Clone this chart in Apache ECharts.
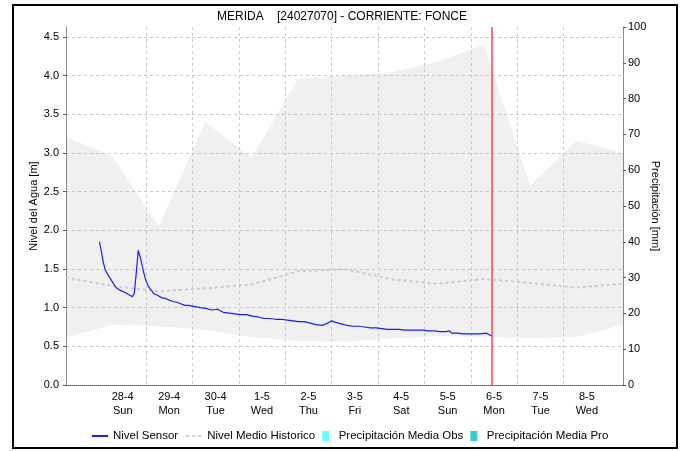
<!DOCTYPE html>
<html>
<head>
<meta charset="utf-8">
<script src="https://cdn.jsdelivr.net/npm/echarts@6/dist/echarts.min.js"></script>
<style>
  html, body { margin: 0; padding: 0; background: #fff; }
  #chart { width: 684px; height: 451px; }
</style>
</head>
<body>
<div id="chart"></div>
<script>
// x values are hours from 28-4 00:00
var T0 = Date.UTC(2024, 3, 28);
var HOUR = 3600 * 1000;

// axis range (hours)
var xMinHours = -17.33;
var xMaxHours = 270.67;
var nowHours = 203;

// day ticks / labels
var dayTickHours = [0, 24, 48, 72, 96, 120, 144, 168, 192, 216, 240, 264];
var dayLabelHours = [12, 36, 60, 84, 108, 132, 156, 180, 204, 228, 252];
var dayNames = ['Sun', 'Mon', 'Tue', 'Wed', 'Thu', 'Fri', 'Sat'];

// historic band and mean (one point per day, at 06:40)
var histHours = [-17.33, 6.67, 30.67, 54.67, 78.67, 102.67, 126.67, 150.67, 174.67, 198.67, 222.67, 246.67, 270.67];
var histUpper = [3.21, 2.96, 2.05, 3.40, 2.94, 3.96, 4.00, 4.04, 4.18, 4.40, 2.58, 3.16, 3.00];
var histLower = [0.61, 0.78, 0.76, 0.71, 0.62, 0.57, 0.56, 0.60, 0.63, 0.62, 0.61, 0.62, 0.78];
var histMean  = [1.39, 1.28, 1.21, 1.25, 1.30, 1.47, 1.50, 1.37, 1.31, 1.37, 1.32, 1.26, 1.31];

// sensor level
var sensorHours = [0, 1, 2, 3, 4, 5, 6, 7, 8, 9, 10, 11, 12, 13, 14, 15, 16, 17, 18, 19, 20, 21, 22, 23, 24, 25, 26, 27, 28,
  30, 32, 34, 36, 38, 40, 42, 44, 46, 48, 50, 52, 55, 58, 61, 64, 67, 70, 73, 76, 79, 82, 85, 88, 91, 94, 97, 100,
  103, 106, 109, 112, 115, 118, 120, 122, 125, 128, 131, 134, 137, 140, 143, 146, 149, 152, 155, 158, 161, 164, 167,
  170, 173, 176, 179, 181, 182, 185, 188, 191, 194, 197, 200, 203];
var sensorLevel = [1.85, 1.72, 1.58, 1.49, 1.44, 1.40, 1.36, 1.32, 1.28, 1.25, 1.23, 1.22, 1.21, 1.20, 1.19, 1.17, 1.18, 1.14, 1.19, 1.45, 1.74, 1.66, 1.55, 1.44, 1.35, 1.29, 1.25, 1.22, 1.18,
  1.16, 1.13, 1.12, 1.10, 1.08, 1.07, 1.05, 1.03, 1.03, 1.02, 1.01, 1.00, 0.99, 0.97, 0.98, 0.94, 0.93, 0.92, 0.91, 0.91, 0.89, 0.88, 0.86, 0.86, 0.85, 0.85, 0.84, 0.83,
  0.82, 0.82, 0.80, 0.78, 0.77, 0.80, 0.83, 0.81, 0.79, 0.77, 0.76, 0.76, 0.75, 0.74, 0.74, 0.73, 0.72, 0.72, 0.72, 0.71, 0.71, 0.71, 0.71,
  0.70, 0.70, 0.69, 0.69, 0.70, 0.67, 0.67, 0.66, 0.66, 0.66, 0.66, 0.67, 0.63];

function pairs(hs, vs) { return hs.map(function (h, i) { return [h, vs[i]]; }); }

var chart = echarts.init(document.getElementById('chart'));
var font = 'Liberation Sans, Arial, sans-serif';
var gridColor = '#c8c8c8';

var option = {
    animation: false,
    backgroundColor: '#fff',
    textStyle: { fontFamily: font },
    title: {
        text: 'MERIDA    [24027070] - CORRIENTE: FONCE',
        left: 'center',
        top: 6,
        textStyle: { fontSize: 12, fontWeight: 'normal', color: '#000', fontFamily: font }
    },
    graphic: [{
        type: 'rect',
        shape: { x: 13, y: 5, width: 664, height: 443 },
        style: { fill: 'none', stroke: '#000', lineWidth: 2 },
        silent: true
    }],
    grid: { left: 66, right: 61, top: 27, bottom: 66 },
    legend: {
        bottom: 4,
        left: 86,
        itemWidth: 16,
        itemHeight: 10,
        itemGap: 7,
        textStyle: { fontSize: 11.5, color: '#000', fontFamily: font },
        data: [
            { name: 'Nivel Sensor', itemStyle: { opacity: 0 } },
            { name: 'Nivel Medio Historico', itemStyle: { opacity: 0 } },
            { name: 'Precipitación Media Obs', icon: 'path://M0,0h7v10h-7z', itemStyle: { color: '#66ffff' } },
            { name: 'Precipitación Media Pro', icon: 'path://M0,0h7v10h-7z', itemStyle: { color: '#33cccc' } }
        ]
    },
    xAxis: {
        type: 'value',
        min: xMinHours,
        max: xMaxHours,
        z: 1,
        axisLine: { show: true, onZero: false, lineStyle: { color: '#555', type: [1, 1], width: 1 } },
        axisTick: { show: false, customValues: dayTickHours },
        splitLine: { show: true, showMinLine: false, showMaxLine: false, lineStyle: { color: gridColor, type: [3, 3] } },
        axisLabel: {
            customValues: dayLabelHours,
            color: '#000',
            fontSize: 11,
            lineHeight: 14,
            margin: 5,
            formatter: function (v) {
                var d = new Date(T0 + v * HOUR);
                return d.getUTCDate() + '-' + (d.getUTCMonth() + 1) + '\n' + dayNames[d.getUTCDay()];
            }
        }
    },
    yAxis: [{
        type: 'value',
        min: 0,
        max: 4.63,
        interval: 0.5,
        z: 1,
        name: 'Nivel del Agua [m]',
        nameLocation: 'middle',
        nameGap: 27,
        nameMoveOverlap: false,
        nameTextStyle: { fontSize: 11, color: '#000' },
        axisLine: { show: true, onZero: false, lineStyle: { color: '#888' } },
        axisTick: { show: true, length: 3, lineStyle: { color: '#555' } },
        axisLabel: { color: '#000', fontSize: 11, margin: 7, showMaxLabel: false,
            formatter: function (v) { return v.toFixed(1); } },
        splitLine: { show: true, showMinLine: false, showMaxLine: false, lineStyle: { color: gridColor, type: [3, 3] } }
    }, {
        type: 'value',
        min: 0,
        max: 100,
        interval: 10,
        position: 'right',
        z: 1,
        name: 'Precipitación [mm]',
        nameLocation: 'middle',
        nameGap: 27,
        nameMoveOverlap: false,
        nameRotate: -90,
        nameTextStyle: { fontSize: 11, color: '#000' },
        axisLine: { show: true, onZero: false, lineStyle: { color: '#888' } },
        axisTick: { show: true, length: 3, lineStyle: { color: '#555' } },
        axisLabel: { color: '#000', fontSize: 11, margin: 5 },
        splitLine: { show: false }
    }],
    series: [{
        // historic max, filled down to 0
        name: 'band-high',
        type: 'line',
        symbol: 'none',
        z: 0,
        lineStyle: { width: 0 },
        areaStyle: { color: '#f0f0f0', opacity: 1, origin: 'start' },
        silent: true,
        data: pairs(histHours, histUpper)
    }, {
        // historic min, cleared down to 0
        name: 'band-low',
        type: 'line',
        symbol: 'none',
        z: 0.5,
        lineStyle: { width: 0 },
        areaStyle: { color: '#ffffff', opacity: 1, origin: 'start' },
        silent: true,
        data: pairs(histHours, histLower)
    }, {
        name: 'Nivel Medio Historico',
        type: 'line',
        symbol: 'none',
        z: 2,
        lineStyle: { color: '#cccccc', width: 2, type: [3, 3] },
        itemStyle: { color: '#cccccc' },
        data: pairs(histHours, histMean)
    }, {
        name: 'Nivel Sensor',
        type: 'line',
        symbol: 'none',
        z: 3,
        lineStyle: { color: '#1a1aff', width: 1.2 },
        itemStyle: { color: '#1a1aff' },
        data: pairs(sensorHours, sensorLevel),
        markLine: {
            silent: true,
            symbol: 'none',
            label: { show: false },
            lineStyle: { color: '#ff4444', width: 1.5, type: 'solid' },
            data: [{ xAxis: nowHours }]
        }
    }, {
        name: 'Precipitación Media Obs',
        type: 'bar',
        yAxisIndex: 1,
        itemStyle: { color: '#66ffff' },
        data: []
    }, {
        name: 'Precipitación Media Pro',
        type: 'bar',
        yAxisIndex: 1,
        itemStyle: { color: '#33cccc' },
        data: []
    }]
};

chart.setOption(option);
</script>
</body>
</html>
